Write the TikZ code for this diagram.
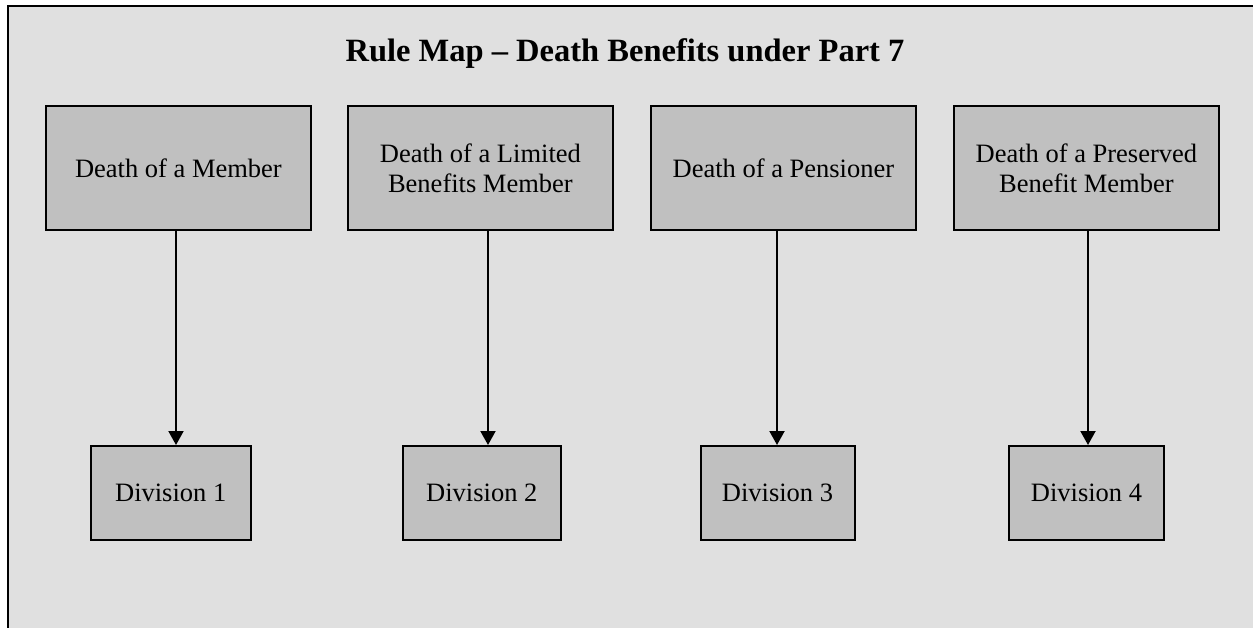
\documentclass[tikz,border=0pt]{standalone}
\usepackage{fontspec}
\setmainfont{Liberation Serif}
\usetikzlibrary{arrows.meta}

\definecolor{panelgray}{HTML}{E0E0E0}
\definecolor{boxgray}{HTML}{C0C0C0}

\tikzset{
  rulebox/.style={rectangle, draw, fill=boxgray, line width=2pt, align=center,
    minimum width=265pt, minimum height=124pt,
    font=\rmfamily\fontsize{26.5}{30}\selectfont},
  divbox/.style={rectangle, draw, fill=boxgray, line width=2pt,
    minimum width=157pt, minimum height=94pt,
    font=\rmfamily\fontsize{26.5}{30}\selectfont},
  link/.style={line width=2pt, -{Triangle[width=15pt,length=14pt]}}
}

\begin{document}
\begin{tikzpicture}[x=1pt, y=-1pt]
        \useasboundingbox (0,0) rectangle (1253,628);

        % Panel
        \fill[panelgray] (7.5,6.5) rectangle (1253,628);
        \draw[line width=2pt] (7.5,628) -- (7.5,6.5) -- (1253,6.5);

        % Title
        \node (title) at (625,54) {\fontsize{32.5}{36}\selectfont\bfseries Rule Map -- Death Benefits under Part 7};

        % Nodes
        \node (m1) [rulebox] at (178.4,168) {Death of a Member};
        \node (m2) [rulebox] at (480.4,168) {Death of a Limited\\Benefits Member};
        \node (m3) [rulebox] at (783.4,168) {Death of a Pensioner};
        \node (m4) [rulebox] at (1086.4,168) {Death of a Preserved\\Benefit Member};

        \node (d1) [divbox, minimum width=160pt] at (170.7,493) {Division 1};
        \node (d2) [divbox, minimum width=158pt] at (481.8,493) {Division 2};
        \node (d3) [divbox, minimum width=154pt] at (777.5,493) {Division 3};
        \node (d4) [divbox, minimum width=155pt] at (1086.5,493) {Division 4};

        \coordinate (a1) at (176,0);
        \coordinate (a2) at (488,0);
        \coordinate (a3) at (777,0);
        \coordinate (a4) at (1088,0);

        % Edges
        \draw[link] (m1.south -| a1) -- (d1.north -| a1);
        \draw[link] (m2.south -| a2) -- (d2.north -| a2);
        \draw[link] (m3.south -| a3) -- (d3.north -| a3);
        \draw[link] (m4.south -| a4) -- (d4.north -| a4);
    \end{tikzpicture}
\end{document}
